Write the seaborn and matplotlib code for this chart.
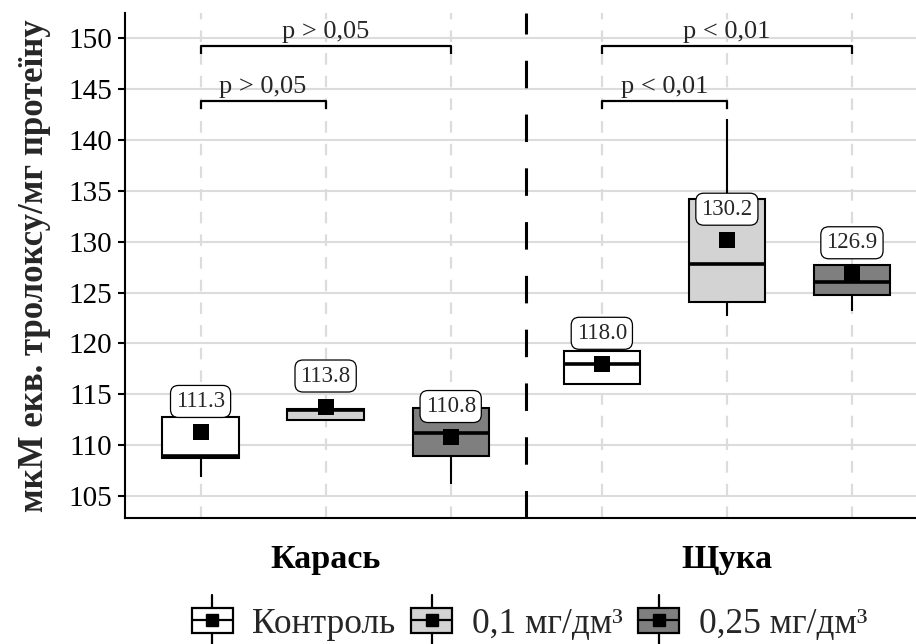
import itertools

import numpy as np
import pandas as pd
import matplotlib
matplotlib.use("Agg")
import matplotlib.pyplot as plt
import seaborn as sns
from matplotlib.patches import Rectangle, Patch
from matplotlib.lines import Line2D
from matplotlib.legend_handler import HandlerBase

# ---- data -------------------------------------------------------------
species = ["Карась", "Щука"]
treatments = ["Контроль", "0,1 мг/дм³", "0,25 мг/дм³"]

# five-number summaries, species-major order (Карась x3, Щука x3)
whisker_low = [106.9, 112.5, 106.2, 116.0, 122.7, 123.2]
q1 = [108.7, 112.5, 108.9, 116.0, 124.1, 124.8]
median = [108.9, 113.5, 111.2, 118.0, 127.8, 126.0]
q3 = [112.8, 113.6, 113.7, 119.3, 134.2, 127.7]
whisker_high = [112.8, 113.6, 113.7, 119.7, 142.1, 127.7]
means = [111.3, 113.8, 110.8, 118.0, 130.2, 126.9]

p_labels = ["p > 0,05", "p < 0,01"]
fills = ["#FFFFFF", "#D3D3D3", "#7F7F7F"]

# ---- style --------------------------------------------------------------
sns.set_theme(style="white")
plt.rcParams["font.family"] = ["Liberation Serif", "DejaVu Serif"]

rows = []
for i, (sp, tr) in enumerate(itertools.product(species, treatments)):
    for v in (whisker_low[i], q1[i], median[i], q3[i], whisker_high[i]):
        rows.append({"species": sp, "treatment": tr, "value": v})
df = pd.DataFrame(rows)

fig = plt.figure(figsize=(9.16, 6.44), dpi=100)
ax = fig.add_axes([125 / 916, 1 - 518 / 644, 1 - 125 / 916, (518 - 13) / 644])

total_width = 0.935
slot = total_width / len(treatments)
positions = [si + (ti - 1) * slot
             for si in range(len(species)) for ti in range(len(treatments))]

# grid
grid_col = "#DCDCDC"
yticks = np.arange(105, 151, 5)
for y in yticks:
    ax.axhline(y, color=grid_col, lw=1.5, zorder=0.5)
for p in positions:
    ax.axvline(p, color=grid_col, lw=1.6, ls=(0, (5.2, 5.0)), zorder=0.5)

# separator between species
ax.axvline(0.5, color="black", lw=2.2, ls=(0, (9.0, 8.6)), zorder=1)

sns.boxplot(
    data=df, x="species", y="value", hue="treatment",
    order=species, hue_order=treatments,
    palette=dict(zip(treatments, fills)), saturation=1,
    width=total_width, gap=0.39, whis=np.inf, showcaps=False,
    linecolor="black", linewidth=1.5,
    medianprops=dict(linewidth=2.6, color="black"),
    legend=False, ax=ax,
)

sns.scatterplot(x=positions, y=means, marker="s", s=120, color="black",
                linewidth=0, zorder=4, legend=False, ax=ax)

for p, m in zip(positions, means):
    ax.text(p, m + 3, f"{m:.1f}", ha="center", va="center", fontsize=16.5,
            zorder=6,
            bbox=dict(boxstyle="round,pad=0.24,rounding_size=0.35",
                      fc="white", ec="black", lw=0.9))

# significance brackets
tip = 0.7
for si, lab in enumerate(p_labels):
    base = positions[si * 3]
    for other, yb in ((1, 143.8), (2, 149.2)):
        x2 = positions[si * 3 + other]
        ax.plot([base, base, x2, x2], [yb - tip, yb, yb, yb - tip],
                color="black", lw=1.6, zorder=5, solid_capstyle="butt")
        ax.text((base + x2) / 2, yb + 0.85, lab, ha="center", va="baseline",
                fontsize=19, zorder=6)

ax.set_xlim(-0.5, 1.4713)
ax.set_ylim(102.84, 152.49)
ax.set_yticks(yticks)
ax.set_yticklabels([str(int(y)) for y in yticks])
ax.set_xticks(range(len(species)))
ax.set_xticklabels(species, fontweight="bold", fontsize=24.5)
ax.set_xlabel("")
ax.set_ylabel("мкМ екв. тролоксу/мг протеїну", fontweight="bold",
              fontsize=25, labelpad=13)

for s in ("top", "right"):
    ax.spines[s].set_visible(False)
for s in ("left", "bottom"):
    ax.spines[s].set_color("black")
    ax.spines[s].set_linewidth(1.5)
ax.tick_params(axis="y", length=5, width=1.5, pad=4, labelsize=21,
               colors="black", left=True)
ax.tick_params(axis="x", length=0, pad=19, colors="black")


class BoxKeyHandler(HandlerBase):
    def create_artists(self, legend, orig_handle, xdescent, ydescent,
                       width, height, fontsize, trans):
        x0, y0 = -xdescent, -ydescent
        cx, cy = x0 + width / 2, y0 + height / 2
        rect = Rectangle((x0, y0), width, height,
                         facecolor=orig_handle.get_facecolor(),
                         edgecolor="black", lw=1.6, transform=trans)
        med = Line2D([x0, x0 + width], [cy, cy], color="black", lw=1.6,
                     transform=trans)
        wl = Line2D([cx, cx], [y0 - height * 0.5, y0], color="black",
                    lw=1.6, transform=trans)
        wh = Line2D([cx, cx], [y0 + height, y0 + height * 1.5],
                    color="black", lw=1.6, transform=trans)
        sq = Line2D([cx], [cy], marker="s", ms=9, color="black", lw=0,
                    transform=trans)
        return [rect, med, wl, wh, sq]


handles = [Patch(facecolor=c) for c in fills]
fig.legend(handles, treatments, handler_map={Patch: BoxKeyHandler()},
           loc="center", bbox_to_anchor=(0.578, 0.031), ncol=3,
           frameon=False, fontsize=25.5, handlelength=1.15, handleheight=0.72,
           handletextpad=0.55, columnspacing=0.45)

fig.savefig("out.png", dpi=100)
